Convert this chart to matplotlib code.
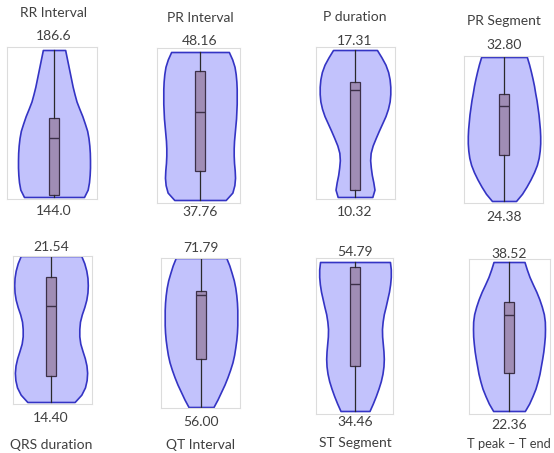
import numpy as np
import matplotlib.pyplot as plt

plt.rcParams['font.family'] = ['Lato', 'DejaVu Sans']

W, H = 554, 453

names = ['RR Interval', 'PR Interval', 'P duration', 'PR Segment',
         'QRS duration', 'QT Interval', 'ST Segment', 'T peak \u2013 T end']
max_labels = ['186.6', '48.16', '17.31', '32.80', '21.54', '71.79', '54.79', '38.52']
min_labels = ['144.0', '37.76', '10.32', '24.38', '14.40', '56.00', '34.46', '22.36']
v_max = [186.6, 48.16, 17.31, 32.80, 21.54, 71.79, 54.79, 38.52]
v_min = [144.0, 37.76, 10.32, 24.38, 14.40, 56.00, 34.46, 22.36]
q1 = [144.7, 39.80, 10.65, 27.05, 15.67, 61.09, 40.60, 26.45]
median = [161.2, 43.94, 15.41, 29.95, 19.10, 67.87, 51.79, 32.81]
q3 = [166.8, 46.83, 15.80, 30.65, 20.51, 68.30, 54.11, 34.21]

# density (violin half-width) from min (first) to max (last)
density = [
    [90, 101, 105, 107, 108, 108, 107.5, 106, 103.5, 99.5, 92.5,
     85, 76, 67.5, 61.5, 56, 51.5, 47, 42.5, 38, 33.5],
    [77, 97, 103, 105, 104, 102, 101, 101, 102, 104, 106,
     108, 109, 110, 110, 110, 109, 107, 103.5, 96.5, 86.5],
    [52, 58.5, 55, 50.5, 47.5, 45.5, 47, 53, 62, 71.5, 81.5,
     91.5, 99, 104, 106, 106, 104, 99.5, 91.5, 79.5, 66],
    [36, 54, 67.5, 79.5, 90, 98.5, 104, 107, 108.5, 108.5, 107.5,
     105.5, 103.5, 100.5, 97.5, 93.5, 90, 85.5, 80.5, 75, 68.5],
    [71, 91, 102, 107, 108.5, 106.5, 101.5, 94.5, 88, 85, 85,
     87, 92.5, 100, 106, 109.5, 110.5, 109.5, 106, 100, 91],
    [37.5, 49.5, 60, 70.5, 79.5, 87.5, 94.5, 99.5, 103, 106, 108,
     109, 109, 109, 108, 106, 103, 98.5, 92, 85, 76],
    [43.5, 53.5, 62.5, 70.5, 77.5, 82.5, 85.5, 86.5, 85.5, 83.5, 81.5,
     81, 83, 86.5, 92, 97, 102, 105.5, 107.5, 107.5, 105],
    [47.5, 60.5, 70.5, 79.5, 86, 91.5, 95.5, 99.5, 103, 105.5, 107.5,
     108, 107.5, 104.5, 98.5, 91, 82, 71.5, 61.5, 53.5, 46.5],
]

# layout in pixels: frame (left, right, top, bottom), violin centre, violin top/bottom
frames = [(7, 97, 47, 199), (157, 240, 48, 203), (316, 395, 47, 199), (464, 543, 56, 203),
          (13, 92, 256, 404), (161, 240, 258, 408), (316, 393, 258, 414), (469, 550, 259, 414)]
centers = [54, 200, 355, 504, 51, 201, 355, 509]
v_top = [50, 52, 50, 57, 256, 258, 262, 262]
v_bot = [197, 200, 197, 201, 402, 407, 411, 411]
half_w = [36, 36.7, 35.3, 36.2, 36.8, 36.3, 35.8, 36]
y_maxlab = [36, 41, 41, 45, 247, 248, 252, 254]
y_minlab = [211, 212, 212, 217, 418, 422, 422, 425]
y_title = [13, 18, 17, 21, 445, 445, 443, 444]
title_size = [10, 10, 10, 10, 10, 10, 10, 9.3]

text_color = '#404040'

fig = plt.figure(figsize=(W / 100, H / 100), dpi=100)
fig.patch.set_facecolor('white')

for i in range(8):
    l, r, t, b = frames[i]
    c = centers[i]
    ax = fig.add_axes([l / W, 1 - b / H, (r - l) / W, (b - t) / H])
    upp = (v_max[i] - v_min[i]) / (v_bot[i] - v_top[i])
    ax.set_xlim(l - c, r - c)
    ax.set_ylim(v_min[i] - (b - v_bot[i]) * upp, v_max[i] + (v_top[i] - t) * upp)

    stats = [dict(coords=np.linspace(v_min[i], v_max[i], len(density[i])),
                  vals=np.array(density[i], dtype=float), mean=median[i], median=median[i],
                  min=v_min[i], max=v_max[i])]
    parts = ax.violin(stats, positions=[0], widths=[2 * half_w[i]],
                      showmeans=False, showextrema=False, showmedians=False)
    for body in parts['bodies']:
        body.set_facecolor('#c2c2fc')
        body.set_edgecolor('#3434c4')
        body.set_linewidth(1.2)
        body.set_joinstyle('round')
        body.set_alpha(1)

    box = [dict(med=median[i], q1=q1[i], q3=q3[i], whislo=v_min[i], whishi=v_max[i], fliers=[])]
    ax.bxp(box, positions=[0], widths=10, patch_artist=True, showcaps=False, showfliers=False,
           boxprops=dict(facecolor='#a08db5', edgecolor='#3c3048', linewidth=0.9),
           medianprops=dict(color='#3c3048', linewidth=1.0),
           whiskerprops=dict(color='#2a2a2a', linewidth=0.9))

    ax.set_xticks([])
    ax.set_yticks([])
    for s in ax.spines.values():
        s.set_color('#dcdcdc')
        s.set_linewidth(0.8)

    fig.text(c / W, 1 - y_maxlab[i] / H, max_labels[i], ha='center', va='center',
             fontsize=10, color=text_color)
    fig.text(c / W, 1 - y_minlab[i] / H, min_labels[i], ha='center', va='center',
             fontsize=10, color=text_color)
    fig.text(c / W, 1 - y_title[i] / H, names[i], ha='center', va='center',
             fontsize=title_size[i], color=text_color)

fig.savefig('out.png', dpi=100)
